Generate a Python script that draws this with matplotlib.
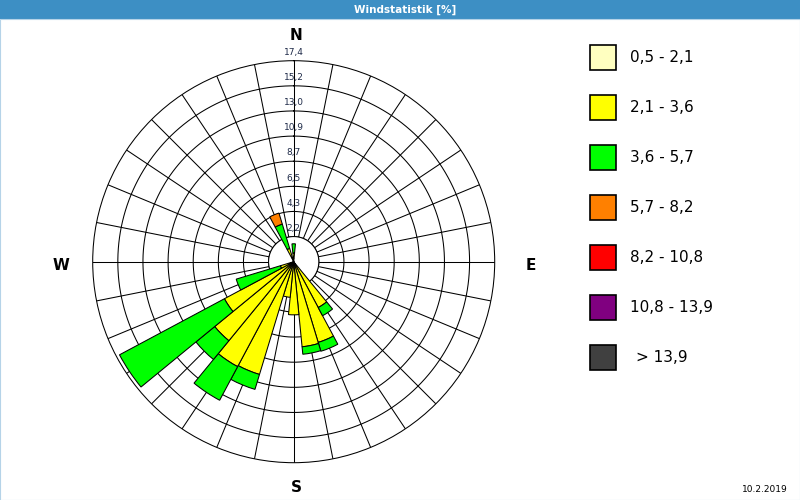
import numpy as np
import matplotlib
matplotlib.use("Agg")
import matplotlib.pyplot as plt
from matplotlib.patches import Rectangle

# ---- data -------------------------------------------------------------
title = "Windstatistik [%]"
date_text = "10.2.2019"
directions_deg = [0.0, 146.25, 157.5, 168.75, 180.0, 191.25, 202.5,
                  213.75, 225.0, 236.25, 247.5, 337.5]
class_labels = ["0,5 - 2,1", "2,1 - 3,6", "3,6 - 5,7", "5,7 - 8,2",
                "8,2 - 10,8", "10,8 - 13,9", "> 13,9"]
class_colors = ["#FFFFC0", "#FFFF00", "#00FF00", "#FF8000",
                "#FF0000", "#800080", "#404040"]
# frequency [%] per speed class and direction (same order as directions_deg)
c_05_21 = [0.3, 0.4, 0.4, 0.4, 0.4, 0.4, 0.4, 0.4, 0.4, 0.4, 0.3, 0.3]
c_21_36 = [0.45, 4.1, 6.9, 7.0, 4.2, 2.7, 9.8, 9.9, 8.45, 6.4, 0.9, 0.9]
c_36_57 = [0.8, 0.8, 0.8, 0.65, 0.0, 0.0, 1.35, 3.3, 2.1, 10.3, 4.0, 2.2]
c_57_82 = [0, 0, 0, 0, 0, 0, 0, 0, 0, 0, 0, 1.0]
c_82_108 = [0] * 12
c_108_139 = [0] * 12
c_gt_139 = [0] * 12
ring_values = [2.2, 4.3, 6.5, 8.7, 10.9, 13.0, 15.2, 17.4]
ring_labels = ["2,2", "4,3", "6,5", "8,7", "10,9", "13,0", "15,2", "17,4"]
n_sectors = 32
r_max = 17.4
calm_r = 2.175

classes = [c_05_21, c_21_36, c_36_57, c_57_82, c_82_108, c_108_139, c_gt_139]

# ---- figure -----------------------------------------------------------
fig = plt.figure(figsize=(8, 5), dpi=100)
fig.patch.set_facecolor("white")

# title band
fig.patches.append(Rectangle((0, 1 - 19 / 500), 1, 19 / 500, transform=fig.transFigure,
                             facecolor="#3D8FC4", edgecolor="none", zorder=0))
fig.text(405 / 800, 1 - 9.5 / 500, title, color="white", fontsize=7.5,
         fontweight="bold", ha="center", va="center")
fig.patches.append(Rectangle((0.0006, 0.001), 0.9988, 1 - 19 / 500 - 0.001,
                             transform=fig.transFigure, facecolor="none",
                             edgecolor="#B5D3E8", lw=0.8, zorder=0))

lw = 0.75
cx, cy, R = 293.7, 261.7, 201.0
ax = fig.add_axes([(cx - R) / 800, 1 - (cy + R) / 500, 2 * R / 800, 2 * R / 500],
                  projection="polar")
ax.set_theta_zero_location("N")
ax.set_theta_direction(-1)
ax.set_ylim(0, r_max)
ax.grid(False)
ax.set_xticks([])
ax.set_yticks([])
ax.spines["polar"].set_linewidth(lw)
ax.spines["polar"].set_color("black")

# rings
tt = np.linspace(0, 2 * np.pi, 400)
ring_radii = [calm_r * (k + 1) for k in range(len(ring_values))]
for rr in ring_radii[:-1]:
    ax.plot(tt, np.full_like(tt, rr), color="black", lw=lw, zorder=1)
# spokes
for k in range(n_sectors):
    th = np.deg2rad(k * 360 / n_sectors)
    ax.plot([th, th], [calm_r, r_max], color="black", lw=lw, zorder=1)
# calm circle
ax.fill(tt, np.full_like(tt, calm_r), facecolor="white", edgecolor="black",
        lw=lw, zorder=2)

# bars
theta = np.deg2rad(directions_deg)
width = 2 * np.pi / n_sectors
bottom = np.zeros(len(directions_deg))
for vals, col in zip(classes, class_colors):
    v = np.array(vals, dtype=float)
    m = v > 0
    if m.any():
        ax.bar(theta[m], v[m], width=width, bottom=bottom[m], color=col,
               edgecolor="black", linewidth=lw, zorder=3, align="center")
    bottom = bottom + v

# ring labels
for rr, lab in zip(ring_radii, ring_labels):
    ax.text(0, rr + 0.72, lab, color="#1E2A48", fontsize=6.5, ha="center",
            va="center", zorder=4, clip_on=False)

# compass labels
for lab, (px, py) in {"N": (296, 35), "E": (531, 265), "S": (296, 488),
                      "W": (61, 265)}.items():
    fig.text(px / 800, 1 - py / 500, lab, fontsize=11, fontweight="bold",
             ha="center", va="center", color="black")

# legend
for i, (lab, col) in enumerate(zip(class_labels, class_colors)):
    yc = 57.5 + 50 * i
    fig.patches.append(Rectangle((590 / 800, 1 - (yc + 12.5) / 500), 26 / 800, 25 / 500,
                                 transform=fig.transFigure, facecolor=col,
                                 edgecolor="black", lw=1.2))
    tx = 630 if not lab.startswith(">") else 636
    fig.text(tx / 800, 1 - yc / 500, lab, fontsize=11, ha="left", va="center",
             color="black")

fig.text(765 / 800, 1 - 490 / 500, date_text, fontsize=6.5, ha="center",
         va="center", color="black")

fig.savefig("out.png", dpi=100)
